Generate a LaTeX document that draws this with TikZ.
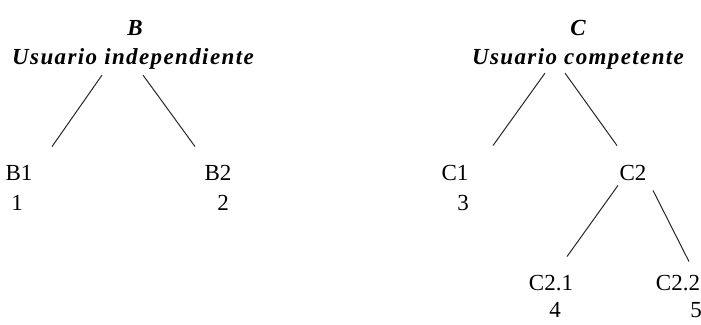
\documentclass[tikz,border=0pt]{standalone}
\usepackage{fontspec}
\setmainfont{Liberation Serif}
\newfontfamily\titlefont{Liberation Serif}[LetterSpace=6]
\usepackage{tikz}
\pgfdeclarelayer{edgelayer}
\pgfdeclarelayer{nodelayer}
\pgfsetlayers{edgelayer,nodelayer,main}
\tikzstyle{level}=[anchor=base,inner sep=0pt,font=\fontsize{23}{27}\selectfont\titlefont\bfseries\itshape]
\tikzstyle{leaf}=[anchor=base,inner sep=0pt,font=\fontsize{23}{27}\selectfont]
\tikzstyle{branch}=[line width=1pt,black!85]

\begin{document}
\begin{tikzpicture}[x=1pt,y=-1pt]
        \useasboundingbox (0,0) rectangle (701,324);
        \begin{pgfonlayer}{nodelayer}
            \node [style = level] (b) at (135, 35) {B};
            \node [style = level] (bt) at (133, 64) {Usuario independiente};
            \node [style = leaf] (b1) at (19, 180) {B1};
            \node [style = leaf] (n1) at (17, 210) {1};
            \node [style = leaf] (b2) at (218, 180) {B2};
            \node [style = leaf] (n2) at (223, 210) {2};

            \node [style = level] (c) at (578, 35) {C};
            \node [style = level] (ct) at (578, 64) {Usuario competente};
            \node [style = leaf] (c1) at (455, 180) {C1};
            \node [style = leaf] (n3) at (463, 210) {3};
            \node [style = leaf] (c2) at (633, 180) {C2};

            \node [style = leaf] (c21) at (551, 290) {C2.1};
            \node [style = leaf] (n4) at (555, 317) {4};
            \node [style = leaf] (c22) at (678, 290) {C2.2};
            \node [style = leaf] (n5) at (696, 317) {5};
        \end{pgfonlayer}

        \begin{pgfonlayer}{edgelayer}
            \draw [style = branch] ([shift={(-31,6)}]bt.south) to ([shift={(33,-18)}]b1.north);
            \draw [style = branch] ([shift={(10,6)}]bt.south) to ([shift={(-23,-18)}]b2.north);

            \draw [style = branch] ([shift={(-33,4)}]ct.south) to ([shift={(38,-19)}]c1.north);
            \draw [style = branch] ([shift={(-13,4)}]ct.south) to ([shift={(-16,-19)}]c2.north);

            \draw [style = branch] ([shift={(-15,5)}]c2.south) to ([shift={(16,-18)}]c21.north);
            \draw [style = branch] ([shift={(20,10)}]c2.south) to ([shift={(11,-13)}]c22.north);
        \end{pgfonlayer}
    \end{tikzpicture}
\end{document}
